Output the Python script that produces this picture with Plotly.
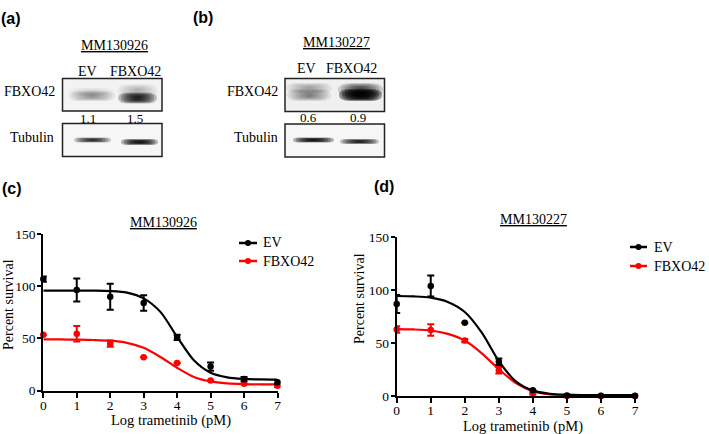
import plotly.graph_objects as go

W, H = 709, 434

# ---------------- data ----------------
doses = [0, 1, 2, 3, 4, 5, 6, 7]
fit_x = [0, 0.5, 1, 1.5, 2, 2.5, 3, 3.5, 4, 4.5, 5, 5.5, 6, 6.5, 7]

# panel (c) MM130926
c_ev = [107, 96.5, 90, 84, 51, 23, 11, 8]
c_ev_err = [2.5, 11, 12.5, 7.5, 2.5, 4, 2, 2]
c_fb = [53.5, 54.5, 45, 32, 26.5, 9.7, 6.4, 4.5]
c_fb_err = [0, 7.5, 3, 0, 0, 0, 0, 1.2]
c_ev_fit = [96, 96, 96, 95.9, 95.5, 94, 88.5, 75.5, 51.5, 29, 17, 12.6, 11.1, 10.6, 10.4]
c_fb_fit = [49, 49, 48.8, 48.5, 47.8, 45.8, 41, 32.2, 21.8, 13, 8.7, 6.9, 6.2, 5.9, 5.8]

# panel (d) MM130227
d_ev = [87, 104, 69.3, 32.5, 5.7, 0.6, 0.5, 0.5]
d_ev_err = [8.5, 10, 0, 3, 0, 0, 0, 0]
d_fb = [63, 62.5, 52.5, 24.5, 2.5, 0.3, 0.3, 0.3]
d_fb_err = [3, 5.5, 1.5, 3, 1, 0, 0, 0]
d_ev_fit = [94.6, 94.2, 93, 89, 79.5, 60, 33.2, 14, 5.3, 2.3, 1.4, 1.1, 1.0, 1.0, 1.0]
d_fb_fit = [63.3, 63, 62, 58.8, 52.5, 40.5, 25.5, 12.5, 4.8, 1.8, 0.8, 0.5, 0.4, 0.3, 0.3]

y_ticks = [0, 50, 100, 150]
series_names = ["EV", "FBXO42"]
series_colors = ["#000000", "#ff0000"]

# western blot quantification labels
blot_a_quant = ["1.1", "1.5"]
blot_b_quant = ["0.6", "0.9"]
cell_lines = ["MM130926", "MM130227"]

SERIF = "Liberation Serif"
SANS = "Liberation Sans"


def X(px):
    return px / W


def Y(py):
    return 1 - py / H


shapes = []
annotations = []


def text(x, y, s, size=14, font=SERIF, bold=False, xanchor="center", angle=0):
    if bold:
        s = "<b>" + s + "</b>"
    annotations.append(dict(
        x=X(x), y=Y(y), xref="paper", yref="paper", text=s, showarrow=False,
        xanchor=xanchor, yanchor="middle", textangle=angle, borderpad=0,
        font=dict(family=font, size=size, color="black")))


def rect(x0, y0, x1, y1, fill, lw=1.5, lc="#222222"):
    shapes.append(dict(type="rect", xref="paper", yref="paper",
                       x0=X(x0), x1=X(x1), y0=Y(y1), y1=Y(y0),
                       fillcolor=fill, line=dict(color=lc, width=lw), layer="above"))


def pill(x0, x1, yc, h, color):
    r = min(h, (x1 - x0) / 2)
    y0, y1 = yc - h / 2, yc + h / 2
    pts = [
        ("M", [(x0 + r, y0)]), ("L", [(x1 - r, y0)]), ("Q", [(x1, y0), (x1, yc)]),
        ("Q", [(x1, y1), (x1 - r, y1)]), ("L", [(x0 + r, y1)]), ("Q", [(x0, y1), (x0, yc)]),
        ("Q", [(x0, y0), (x0 + r, y0)]),
    ]
    p = ""
    for cmd, ps in pts:
        p += cmd + " " + " ".join(f"{X(a):.5f},{Y(b):.5f}" for a, b in ps) + " "
    p += "Z"
    shapes.append(dict(type="path", xref="paper", yref="paper", path=p,
                       fillcolor=color, line=dict(width=0), layer="above"))


def band(x0, x1, yc, h, peak, n=7):
    o = 1 - (1 - peak) ** (1 / n)
    w = x1 - x0
    for i in range(n):
        s = 0.07 * i * w
        hh = h * (1 - 0.75 * i / n)
        pill(x0 + s, x1 - s, yc, hh, f"rgba(0,0,0,{o:.3f})")


# ---------------- panel (a) blot ----------------
text(11, 18, "(a)", size=16, font=SANS, bold=True)
text(114, 46, "<u>" + cell_lines[0] + "</u>", size=14)
text(87, 71, "EV", size=14)
text(135, 71, "FBXO42", size=14)
text(29, 91, "FBXO42", size=14)
text(32, 137, "Tubulin", size=14)
rect(62.5, 78.5, 162, 111, "#f3f3f3")
band(68, 115, 92, 9, 0.12)
band(69, 115, 96, 10, 0.36)
band(117, 158, 91, 14, 0.25)
band(118, 157, 98, 11, 0.85)
text(88, 118, blot_a_quant[0], size=13)
text(135, 118, blot_a_quant[1], size=13)
rect(62.5, 123.5, 162, 156.5, "#f6f6f6")
band(74, 111, 140, 5, 0.8)
band(121, 158, 142, 6, 0.9)

# ---------------- panel (b) blot ----------------
text(203, 17, "(b)", size=16, font=SANS, bold=True)
text(336, 43, "<u>" + cell_lines[1] + "</u>", size=14)
text(306, 68, "EV", size=14)
text(351, 68, "FBXO42", size=14)
text(252, 92, "FBXO42", size=14)
text(256, 137, "Tubulin", size=14)
rect(285, 78.5, 384.5, 111.5, "#f0f0f0")
band(286, 332, 88, 10, 0.3)
band(287, 331, 95, 12, 0.45)
band(338, 383, 90, 14, 0.7)
band(339, 382, 95, 12, 0.97)
text(308, 117, blot_b_quant[0], size=13)
text(358, 117, blot_b_quant[1], size=13)
rect(285, 124, 384.5, 157, "#f6f6f6")
band(293, 334, 140, 5, 0.9)
band(340, 379, 141.5, 5, 0.85)

# ---------------- panels (c), (d) charts ----------------
text(12, 188, "(c)", size=16, font=SANS, bold=True)
text(384, 186, "(d)", size=16, font=SANS, bold=True)
text(163, 222, "<u>" + cell_lines[0] + "</u>", size=14)
text(533, 219, "<u>" + cell_lines[1] + "</u>", size=14)
text(8, 305, "Percent survival", size=14, angle=-90)
text(359, 299, "Percent survival", size=14, angle=-90)
text(171, 420, "Log trametinib (pM)", size=14.5)
text(523, 426.5, "Log trametinib (pM)", size=14.5)

# legends (drawn manually)
for (lx0, lx1, tx, ys) in [(239, 257, 262, (243, 261)), (630, 647, 653, (247, 266))]:
    for name, col, yy in zip(series_names, series_colors, ys):
        shapes.append(dict(type="line", xref="paper", yref="paper",
                           x0=X(lx0), x1=X(lx1), y0=Y(yy), y1=Y(yy),
                           line=dict(color=col, width=2.5)))
        mx = (lx0 + lx1) / 2
        shapes.append(dict(type="circle", xref="paper", yref="paper",
                           x0=X(mx - 3), x1=X(mx + 3), y0=Y(yy + 3), y1=Y(yy - 3),
                           fillcolor=col, line=dict(color=col, width=0)))
        text(tx, yy, name, size=14, xanchor="left")

fig = go.Figure()

panels = [
    ("x", "y", c_ev, c_ev_err, c_fb, c_fb_err, c_ev_fit, c_fb_fit),
    ("x2", "y2", d_ev, d_ev_err, d_fb, d_fb_err, d_ev_fit, d_fb_fit),
]
for xa, ya, ev, eve, fb, fbe, evf, fbf in panels:
    for vals, errs, fit, col in [(fb, fbe, fbf, series_colors[1]), (ev, eve, evf, series_colors[0])]:
        fig.add_trace(go.Scatter(
            x=fit_x, y=fit, mode="lines", xaxis=xa, yaxis=ya,
            line=dict(color=col, width=2.2, shape="spline", smoothing=0.8),
            showlegend=False, hoverinfo="skip", cliponaxis=False))
        fig.add_trace(go.Scatter(
            x=doses, y=vals, mode="markers", xaxis=xa, yaxis=ya,
            marker=dict(color=col, size=6.5),
            error_y=dict(type="data", array=errs, visible=True, color=col,
                         thickness=2, width=3.5),
            showlegend=False, cliponaxis=False))

axis_common = dict(showline=True, linewidth=2, linecolor="black", mirror=False,
                   ticks="outside", tickwidth=2, tickcolor="black",
                   showgrid=False, zeroline=False, fixedrange=True, automargin=False,
                   tickfont=dict(family=SERIF, size=13.5, color="black"))

fig.update_layout(
    width=W, height=H, autosize=False,
    margin=dict(l=0, r=0, t=0, b=0),
    paper_bgcolor="white", plot_bgcolor="rgba(0,0,0,0)",
    xaxis=dict(domain=[X(43.3), X(277.5)], range=[0, 7], tickvals=doses,
               anchor="y", ticklen=5, ticklabelstandoff=-4, **axis_common),
    yaxis=dict(domain=[Y(390.5), Y(234.3)], range=[0, 150], tickvals=y_ticks,
               anchor="x", ticklen=4, ticklabelstandoff=-1, **axis_common),
    xaxis2=dict(domain=[X(396.7), X(635)], range=[0, 7], tickvals=doses,
                anchor="y2", ticklen=5, ticklabelstandoff=-4, **axis_common),
    yaxis2=dict(domain=[Y(396.2), Y(237.3)], range=[0, 150], tickvals=y_ticks,
                anchor="x2", ticklen=4, ticklabelstandoff=-1, **axis_common),
    shapes=shapes,
    annotations=annotations,
    showlegend=False,
)

fig.write_html("out.html", config={"displayModeBar": False},
               post_script="document.body.style.margin='0';document.body.style.padding='0';")
